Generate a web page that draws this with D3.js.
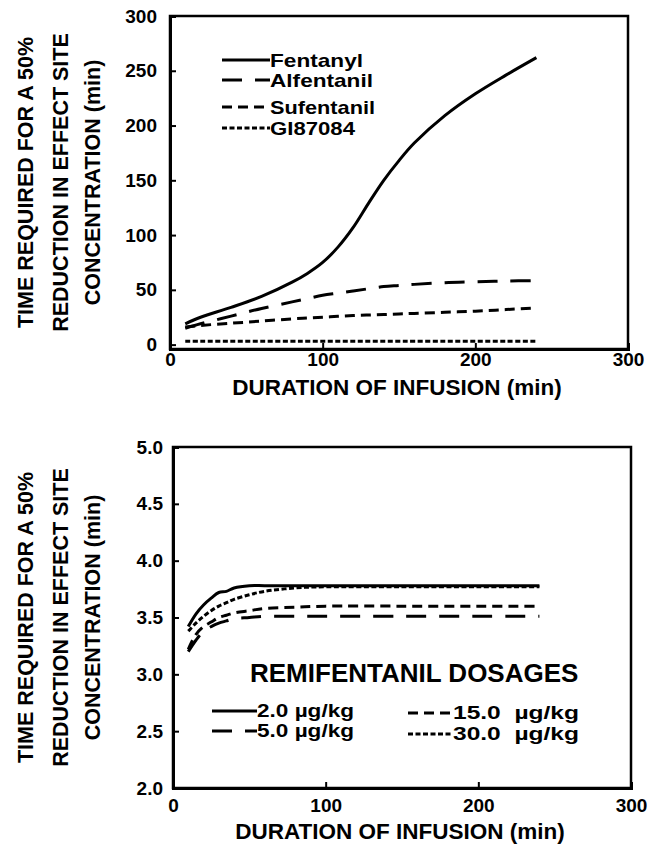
<!DOCTYPE html>
<html>
<head>
<script src="https://cdn.jsdelivr.net/npm/d3@7"></script>
<style>
  body { margin: 0; background: #fff; }
  text { font-family: "Liberation Sans", Arial, sans-serif; font-weight: bold; fill: #000; }
</style>
</head>
<body>
<script>
// ---- top panel data (min) ----
var topDuration = [10, 20, 40, 60, 80, 90, 100, 110, 120, 130, 140, 150, 160, 180, 200, 220, 240];
var fentanyl   = [19, 25, 34, 44, 57, 65, 75, 89, 107, 129, 150, 168, 184, 209, 229, 246, 262];
var alfentanil = [15, 19, 26, 33, 39, 42, 45, 47, 49, 51, 53, 54, 55, 56.5, 57.3, 58, 58.5];
var sufentanil = [16, 17.5, 19.5, 21.5, 23.5, 24.3, 25, 25.8, 26.5, 27, 27.5, 28, 28.5, 29.5, 30.5, 32, 33.5];
var gi87084    = [3, 3, 3, 3, 3, 3, 3, 3, 3, 3, 3, 3, 3, 3, 3, 3, 3];
var topNames = ["Fentanyl", "Alfentanil", "Sufentanil", "GI87084"];
var topYTicks = [0, 50, 100, 150, 200, 250, 300];

// ---- bottom panel data (min) ----
var botDuration = [10, 15, 20, 25, 30, 35, 40, 50, 60, 80, 100, 150, 200, 240];
var remi2  = [3.42, 3.53, 3.61, 3.67, 3.72, 3.73, 3.76, 3.78, 3.78, 3.78, 3.78, 3.78, 3.78, 3.78];
var remi5  = [3.20, 3.30, 3.38, 3.42, 3.45, 3.47, 3.49, 3.50, 3.51, 3.51, 3.51, 3.51, 3.51, 3.51];
var remi15 = [3.22, 3.35, 3.42, 3.46, 3.50, 3.52, 3.54, 3.56, 3.58, 3.59, 3.60, 3.60, 3.60, 3.60];
var remi30 = [3.38, 3.45, 3.51, 3.56, 3.60, 3.63, 3.66, 3.70, 3.73, 3.76, 3.77, 3.77, 3.77, 3.77];
var botNames = ["2.0 \u00b5g/kg", "5.0 \u00b5g/kg", "15.0  \u00b5g/kg", "30.0  \u00b5g/kg"];
var botYTicks = [2.0, 2.5, 3.0, 3.5, 4.0, 4.5, 5.0];

var xTicks = [0, 100, 200, 300];
var dashes = [null, "20,13", "10,6", "5,2.5"];
var yTitle = ["TIME REQUIRED FOR A 50%", "REDUCTION IN EFFECT SITE", "CONCENTRATION (min)"];

var svg = d3.select("body").append("svg")
    .attr("width", 660)
    .attr("height", 854);

function panel(opt) {
  var x = d3.scaleLinear().domain([0, 300]).range([opt.left, opt.right]);
  var y = d3.scaleLinear().domain(opt.yDomain).range([opt.bottom, opt.top]);
  var g = svg.append("g");

  // frame
  g.append("rect")
    .attr("x", opt.left).attr("y", opt.top)
    .attr("width", opt.right - opt.left).attr("height", opt.bottom - opt.top)
    .attr("fill", "none").attr("stroke", "#000").attr("stroke-width", 2.5);

  var ya = d3.axisLeft(y).tickValues(opt.yTicks).tickSize(-6).tickPadding(opt.yPad)
      .tickFormat(opt.yFormat);
  g.append("g").attr("transform", "translate(" + opt.left + ",0)").call(ya)
    .call(function (s) { s.select(".domain").attr("stroke-width", 3); });

  var xa = d3.axisBottom(x).tickValues(xTicks).tickSize(-6).tickPadding(opt.xPad);
  g.append("g").attr("transform", "translate(0," + opt.bottom + ")").call(xa)
    .call(function (s) { s.select(".domain").attr("stroke-width", 3); });

  g.selectAll(".tick line").attr("stroke-width", 2);
  g.selectAll(".tick text").attr("font-size", 19).style("font-family", "Liberation Sans, Arial, sans-serif")
    .style("font-weight", "bold");

  // axis titles
  g.append("text")
    .attr("x", (opt.left + opt.right) / 2 - 2).attr("y", opt.bottom + opt.titleGap)
    .attr("text-anchor", "middle").attr("font-size", 22.5)
    .text("DURATION OF INFUSION (min)");

  var cy = (opt.top + opt.bottom) / 2;
  [25, 60, 92].forEach(function (cx, i) {
    g.append("text")
      .attr("transform", "translate(" + cx + "," + cy + ") rotate(-90)")
      .attr("text-anchor", "middle").attr("dy", "0.36em").attr("font-size", 21.5)
      .text(yTitle[i]);
  });

  // series
  var line = d3.line()
    .x(function (d) { return x(d[0]); })
    .y(function (d) { return y(d[1]); })
    .curve(d3.curveCatmullRom);
  opt.series.forEach(function (vals, i) {
    g.append("path")
      .datum(opt.duration.map(function (t, j) { return [t, vals[j]]; }))
      .attr("d", line)
      .attr("fill", "none").attr("stroke", "#000").attr("stroke-width", 3)
      .attr("stroke-dasharray", dashes[i]);
  });

  return g;
}

// top panel
var gTop = panel({
  left: 170, right: 628, top: 16, bottom: 349,
  yDomain: [-4, 300], yTicks: topYTicks, yFormat: d3.format("d"),
  yPad: 13, xPad: 3, titleGap: 46,
  duration: topDuration,
  series: [fentanyl, alfentanil, sufentanil, gi87084]
});

var topLegY = [60, 80, 107, 128];
var topLegW = [93, 103, 105, 85];
topNames.forEach(function (n, i) {
  gTop.append("line")
    .attr("x1", 222).attr("x2", 270).attr("y1", topLegY[i]).attr("y2", topLegY[i])
    .attr("stroke", "#000").attr("stroke-width", 3).attr("stroke-dasharray", dashes[i]);
  gTop.append("text")
    .attr("x", 270).attr("y", topLegY[i]).attr("dy", "0.36em").attr("font-size", 18.5)
    .attr("textLength", topLegW[i]).attr("lengthAdjust", "spacingAndGlyphs")
    .text(n);
});

// bottom panel
var gBot = panel({
  left: 173, right: 631, top: 447, bottom: 788,
  yDomain: [2, 5], yTicks: botYTicks, yFormat: d3.format(".1f"),
  yPad: 10, xPad: 11, titleGap: 51,
  duration: botDuration,
  series: [remi2, remi5, remi15, remi30]
});

gBot.append("text")
  .attr("x", 250).attr("y", 673).attr("dy", "0.36em").attr("font-size", 26)
  .text("REMIFENTANIL DOSAGES");

var botLeg = [[212, 711], [212, 731], [408, 713], [408, 734]];
var botLegW = [97, 97, 126, 126];
botNames.forEach(function (n, i) {
  var p = botLeg[i];
  gBot.append("line")
    .attr("x1", p[0]).attr("x2", p[0] + 45).attr("y1", p[1]).attr("y2", p[1])
    .attr("stroke", "#000").attr("stroke-width", 3).attr("stroke-dasharray", dashes[i]);
  gBot.append("text")
    .attr("x", p[0] + 45).attr("y", p[1]).attr("dy", "0.36em").attr("font-size", 17.5)
    .style("white-space", "pre")
    .attr("textLength", botLegW[i]).attr("lengthAdjust", "spacingAndGlyphs")
    .text(n);
});
</script>
</body>
</html>
